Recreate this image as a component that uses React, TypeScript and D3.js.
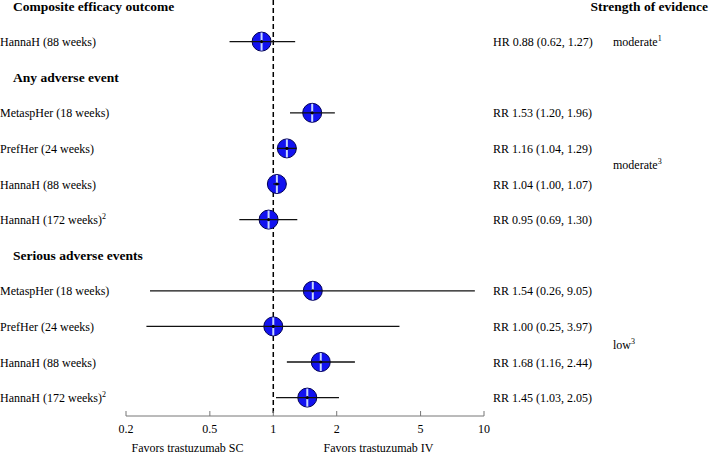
import React from "react";
import * as d3 from "d3";

const rowLabels = [
  "Composite efficacy outcome",
  "HannaH (88 weeks)",
  "Any adverse event",
  "MetaspHer (18 weeks)",
  "PrefHer (24 weeks)",
  "HannaH (88 weeks)",
  "HannaH (172 weeks)",
  "Serious adverse events",
  "MetaspHer (18 weeks)",
  "PrefHer (24 weeks)",
  "HannaH (88 weeks)",
  "HannaH (172 weeks)",
];
const rowIsHeader = [true, false, true, false, false, false, false, true, false, false, false, false];
const rowSup = ["", "", "", "", "", "", "2", "", "", "", "", "2"];
const measure = ["", "HR", "", "RR", "RR", "RR", "RR", "", "RR", "RR", "RR", "RR"];
const estimate = [NaN, 0.88, NaN, 1.53, 1.16, 1.04, 0.95, NaN, 1.54, 1.0, 1.68, 1.45];
const lower = [NaN, 0.62, NaN, 1.2, 1.04, 1.0, 0.69, NaN, 0.26, 0.25, 1.16, 1.03];
const upper = [NaN, 1.27, NaN, 1.96, 1.29, 1.07, 1.3, NaN, 9.05, 3.97, 2.44, 2.05];
const tickValues = [0.2, 0.5, 1, 2, 5, 10];
const evidence = [
  { label: "moderate", sup: "1", row: 1 },
  { label: "moderate", sup: "3", row: 4.45 },
  { label: "low", sup: "3", row: 9.5 },
];

const W = 709;
const H = 454;
const font = "'Liberation Serif', 'Times New Roman', Times, serif";

export default function App() {
  const x = d3.scaleLog().domain([0.2, 10]).range([126, 484]);
  const y = d3.scaleLinear().domain([0, 11]).range([6, 397.6]);
  const axisY = 416;
  const fmt = d3.format(".2f");

  return (
    <svg
      width={W}
      height={H}
      style={{ position: "absolute", left: 0, top: 0, background: "#fff", fontFamily: font }}
    >
      {/* reference line at 1 */}
      <line x1={x(1)} x2={x(1)} y1={0} y2={axisY} stroke="#000" strokeWidth={1.5} strokeDasharray="5,3" />

      {/* row labels */}
      {rowLabels.map((lab, i) => (
        <text
          key={"l" + i}
          x={rowIsHeader[i] ? 13 : 0}
          y={y(i) + 4.5}
          fontSize={rowIsHeader[i] ? 13.5 : 12}
          fontWeight={rowIsHeader[i] ? "bold" : "normal"}
          fill="#000"
        >
          {lab}
          {rowSup[i] && (
            <tspan fontSize={8} dy={-5}>
              {rowSup[i]}
            </tspan>
          )}
        </text>
      ))}

      {/* CIs and markers */}
      {estimate.map((e, i) =>
        isNaN(e) ? null : (
          <g key={"m" + i}>
            <circle cx={x(e)} cy={y(i)} r={9.5} fill="#1212f0" stroke="#000055" strokeWidth={1} />
            <line x1={x(e)} x2={x(e)} y1={y(i) - 9} y2={y(i) + 9} stroke="#c8d8ff" strokeWidth={2} />
            <line x1={x(lower[i])} x2={x(upper[i])} y1={y(i)} y2={y(i)} stroke="#111" strokeWidth={1.3} />
            <circle cx={x(e)} cy={y(i)} r={1.6} fill="#000" />
          </g>
        )
      )}

      {/* estimate text */}
      {estimate.map((e, i) =>
        isNaN(e) ? null : (
          <text key={"t" + i} x={493} y={y(i) + 4.5} fontSize={12} fill="#000">
            {`${measure[i]} ${fmt(e)} (${fmt(lower[i])}, ${fmt(upper[i])})`}
          </text>
        )
      )}

      {/* strength of evidence */}
      <text x={708} y={10.5} fontSize={13.5} fontWeight="bold" textAnchor="end" fill="#000">
        Strength of evidence
      </text>
      {evidence.map((ev, i) => (
        <text key={"e" + i} x={613} y={y(ev.row) + 4.5} fontSize={12} fill="#000">
          {ev.label}
          <tspan fontSize={8} dy={-5}>
            {ev.sup}
          </tspan>
        </text>
      ))}

      {/* axis */}
      <line x1={x(0.2)} x2={x(10)} y1={axisY} y2={axisY} stroke="#777" strokeWidth={1} />
      {tickValues.map((t) => (
        <g key={"k" + t}>
          <line x1={x(t)} x2={x(t)} y1={axisY} y2={axisY - 5} stroke="#777" strokeWidth={1} />
          <text x={x(t)} y={axisY + 17} fontSize={12} textAnchor="middle" fill="#000">
            {String(t)}
          </text>
        </g>
      ))}
      <text x={187.5} y={452} fontSize={12} textAnchor="middle" fill="#000">
        Favors trastuzumab SC
      </text>
      <text x={378.5} y={452} fontSize={12} textAnchor="middle" fill="#000">
        Favors trastuzumab IV
      </text>
    </svg>
  );
}
